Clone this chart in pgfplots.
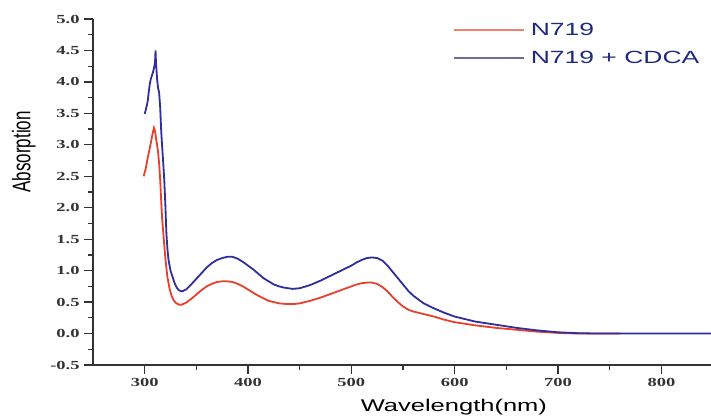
\documentclass[border=0pt]{standalone}
\usepackage{fontspec}
\setmainfont[FakeStretch=1.5]{Liberation Serif}
\newfontfamily\labelfont[FakeStretch=1.5]{Liberation Sans}
\newfontfamily\plainsans{Liberation Sans}
\usepackage{graphicx}
\usepackage{pgfplots}
\pgfplotsset{compat=1.18}
\definecolor{cRed}{HTML}{E8402C}
\definecolor{cBlue}{HTML}{2E2E9C}
\definecolor{cLegRed}{HTML}{F47F6C}
\definecolor{cLegBlue}{HTML}{6C6CA0}
\definecolor{cLegText}{HTML}{1E2A80}
\definecolor{cAxis}{HTML}{333333}

\begin{document}
\begin{tikzpicture}
\path[use as bounding box] (-69.75pt,-40.5pt) rectangle (463.5pt,273.75pt);
\begin{axis}[
    at={(0pt,0pt)}, anchor=south west,
    scale only axis, width=463.5pt, height=259.5pt,
    xmin=250, xmax=848, ymin=-0.5, ymax=5.0,
    axis x line=bottom, axis y line=left,
    axis line style={-, line width=1.1pt, draw=cAxis},
    tick align=outside, tick style={line width=0.9pt, draw=cAxis},
    major tick length=6.5pt, minor tick length=3.8pt,
    xtick={300,400,...,800}, minor x tick num=1,
    ytick={-0.5,0,...,5}, minor y tick num=1,
    /pgf/number format/assume math mode=true,
    yticklabel style={/pgf/number format/.cd, fixed, fixed zerofill, precision=1},
    xticklabel style={/pgf/number format/.cd, 1000 sep={}},
    tick label style={font=\bfseries\fontsize{9.25}{10}\selectfont, text=cAxis},
    xlabel={Wavelength(nm)},
    ylabel={\scalebox{1.5}[1]{\rotatebox{90}{\plainsans\fontsize{12.75}{15}\selectfont Absorption}}},
    label style={font=\labelfont\fontsize{12.75}{15}\selectfont, text=black},
    xlabel style={at={(axis description cs:0.584,-0.121)}, anchor=center},
    ylabel style={at={(axis description cs:-0.112,0.616)}, anchor=center, rotate=-90},
    legend image code/.code={\draw[#1] (0pt,0pt) -- (52.5pt,0pt);},
    legend style={at={(axis description cs:0.575,1.005)}, anchor=north west,
        draw=none, fill=none, row sep=6.5pt,
        font=\labelfont\fontsize{13.25}{15}\selectfont, text=cLegText,
        nodes={inner xsep=4.5pt}},
    legend cell align=left,
]
\addlegendimage{cLegRed, line width=1.6pt}
\addlegendentry{N719}
\addlegendimage{cLegBlue, line width=1.6pt}
\addlegendentry{N719 + CDCA}

% N719
\addplot[cRed, line width=1.35pt, forget plot] coordinates {
(299,2.50) (301,2.62) (303,2.80) (305,2.95) (307,3.12) (308,3.20) (309,3.27)
(310,3.22) (311,3.10) (312,3.00) (313,2.88) (314,2.70) (315,2.45) (316,2.10)
(317,1.80) (318,1.60) (319,1.40) (320,1.20) (321,1.05) (322,0.90) (324,0.72)
(326,0.60) (328,0.53) (330,0.49) (333,0.46) (336,0.46) (340,0.49) (345,0.55)
(350,0.62) (355,0.69) (360,0.75) (365,0.79) (370,0.82) (375,0.83) (380,0.83)
(385,0.82) (390,0.79) (395,0.75) (400,0.70) (405,0.65) (410,0.60) (415,0.56)
(420,0.52) (425,0.50) (430,0.48) (437,0.47) (445,0.47) (450,0.48) (460,0.52)
(470,0.57) (480,0.63) (490,0.69) (500,0.75) (505,0.78) (510,0.80) (515,0.81)
(520,0.81) (525,0.79) (530,0.74) (535,0.67) (540,0.58) (545,0.50) (550,0.43)
(555,0.38) (560,0.35) (570,0.31) (580,0.27) (590,0.22) (600,0.18) (620,0.13)
(640,0.09) (660,0.06) (680,0.03) (700,0.01) (720,0.0) (760,0.0)
};
% N719 + CDCA
\addplot[cBlue, line width=1.35pt, forget plot] coordinates {
(300,3.49) (301,3.55) (302,3.62) (303,3.70) (304,3.85) (305,3.97) (306,4.05)
(307,4.10) (308,4.15) (309,4.22) (310,4.30) (310.5,4.50) (311,4.30) (312,4.05)
(313,3.90) (314,3.83) (315,3.60) (316,3.22) (317,2.95) (318,2.70) (319,2.43)
(320,2.05) (321,1.60) (322,1.35) (323,1.18) (325,1.00) (327,0.90) (329,0.80)
(331,0.73) (333,0.69) (336,0.67) (340,0.70) (345,0.78) (350,0.87) (355,0.96)
(360,1.05) (365,1.12) (370,1.17) (375,1.20) (380,1.22) (385,1.22) (390,1.19)
(395,1.14) (400,1.08) (405,1.02) (410,0.95) (415,0.88) (420,0.83) (425,0.78)
(430,0.75) (435,0.73) (443,0.71) (450,0.72) (460,0.77) (470,0.84) (480,0.92)
(490,1.00) (500,1.08) (505,1.13) (510,1.17) (515,1.20) (520,1.21) (525,1.20)
(530,1.16) (535,1.08) (540,0.98) (545,0.88) (550,0.78) (555,0.68) (560,0.60)
(570,0.48) (575,0.44) (580,0.40) (590,0.33) (600,0.27) (620,0.19) (640,0.14)
(660,0.09) (680,0.05) (700,0.02) (720,0.005) (740,0.0) (848,0.0)
};
\end{axis}
\end{tikzpicture}
\end{document}
